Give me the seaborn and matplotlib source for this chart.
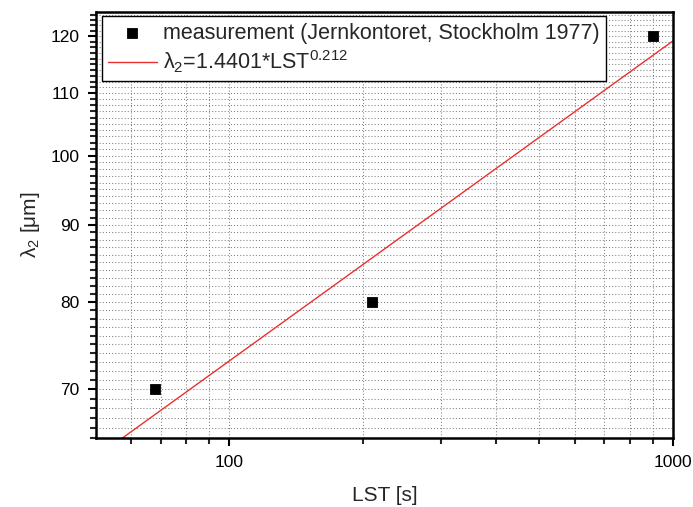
import numpy as np
import pandas as pd
import seaborn as sns
import matplotlib.pyplot as plt
from matplotlib.ticker import FixedLocator, NullFormatter, FixedFormatter

# measured data
lst = [68, 210, 900]
lam2 = [70, 80, 120]

# fit: log10(lambda2) = 1.4401 + 0.212*log10(LST)
fit_a = 1.4401
fit_b = 0.212
fit_x = np.array([50, 1000])

sns.set_style("white")
plt.rcParams['font.family'] = ['Liberation Sans', 'DejaVu Sans']
plt.rcParams['mathtext.fontset'] = 'custom'
plt.rcParams['mathtext.rm'] = 'Liberation Sans'
plt.rcParams['mathtext.it'] = 'Liberation Sans:italic'

df = pd.DataFrame({'LST': lst, 'lam2': lam2})
fit = pd.DataFrame({'LST': fit_x, 'lam2': 10 ** fit_a * fit_x ** fit_b})

fig = plt.figure(figsize=(6.93, 5.07), dpi=100)
ax = fig.add_axes([0.1385, 0.136, 0.8325, 0.840])

sns.scatterplot(data=df, x='LST', y='lam2', marker='s', s=55, color='black',
                edgecolor='black', label='measurement (Jernkontoret, Stockholm 1977)', ax=ax, zorder=3)
sns.lineplot(data=fit, x='LST', y='lam2', color='#e8312f', lw=1,
             label='λ$_2$=1.4401*LST$^{0.212}$', ax=ax, zorder=2)

ax.set_xscale('log')
ax.set_yscale('log')
ax.set_xlim(50, 1000)
ax.set_ylim(65, 124.5)

ax.xaxis.set_major_locator(FixedLocator([100, 1000]))
ax.xaxis.set_major_formatter(FixedFormatter(['100', '1000']))
ax.xaxis.set_minor_locator(FixedLocator([60, 70, 80, 90] + list(range(200, 1000, 100))))
ax.xaxis.set_minor_formatter(NullFormatter())

ax.yaxis.set_major_locator(FixedLocator([70, 80, 90, 100, 110, 120]))
ax.yaxis.set_major_formatter(FixedFormatter(['70', '80', '90', '100', '110', '120']))
ax.yaxis.set_minor_locator(FixedLocator(list(range(65, 125))))
ax.yaxis.set_minor_formatter(NullFormatter())

ax.grid(True, which='both', color='#808080', linestyle=(0, (1, 2)), linewidth=0.75)
ax.set_axisbelow(True)

for sp in ax.spines.values():
    sp.set_linewidth(1.8)
    sp.set_color('black')

ax.tick_params(which='major', direction='out', length=6, width=1.5, labelsize=12.5,
               bottom=True, left=True, top=False, right=False, pad=6, colors='black')
ax.tick_params(which='minor', direction='out', length=4, width=1.5,
               bottom=True, left=True, top=False, right=False)

ax.set_xlabel('LST [s]', fontsize=15, labelpad=12)
ax.set_ylabel('λ$_2$ [μm]', fontsize=15, labelpad=6)

leg = ax.legend(loc='upper left', bbox_to_anchor=(0.01, 0.99), borderaxespad=0,
                fontsize=15.5, frameon=True, fancybox=False, framealpha=1,
                edgecolor='black', handlelength=2.25, handletextpad=0.3,
                borderpad=0.3, labelspacing=0.2)
leg.get_frame().set_linewidth(1)

fig.savefig('out.png', dpi=100)
